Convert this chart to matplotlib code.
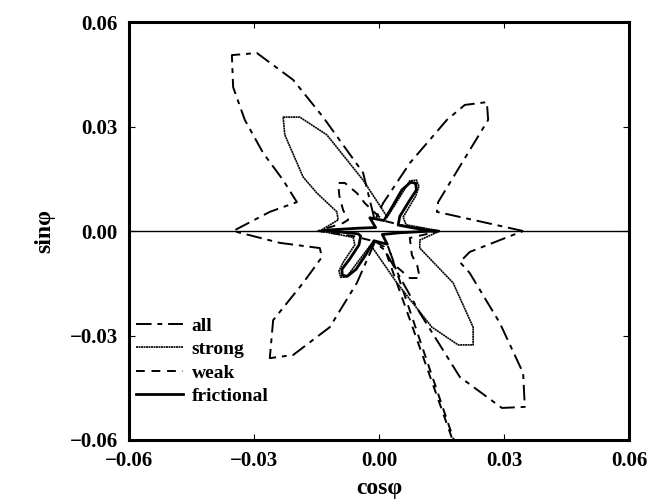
import numpy as np
import matplotlib.pyplot as plt

# -------------------- Data (cos phi, sin phi) --------------------

all_x = [0.0346, 0.0139, 0.0142, 0.0262, 0.0259, 0.0206, 0.0163, 0.0074, 0.0010, -0.0010,
         -0.0038, -0.0134, -0.0206, -0.0293, -0.0353, -0.0350, -0.0322, -0.0278, -0.0230,
         -0.0197, -0.0262, -0.0350, -0.0238, -0.0142, -0.0137, -0.0182, -0.0254, -0.0262,
         -0.0206, -0.0118, -0.0053, -0.0010, 0.0014, 0.0098, 0.0194, 0.0295, 0.0350, 0.0346,
         0.0290, 0.0218, 0.0194, 0.0218, 0.0346]
all_y = [0.0, 0.0055, 0.0083, 0.0319, 0.0370, 0.0362, 0.0319, 0.0195, 0.0080, 0.0030,
         0.0167, 0.0327, 0.0434, 0.0511, 0.0505, 0.0413, 0.0319, 0.0224, 0.0146,
         0.0083, 0.0055, 0.0, -0.0034, -0.0049, -0.0075, -0.0149, -0.0256, -0.0365,
         -0.0356, -0.0276, -0.0149, -0.0032, -0.0055, -0.0235, -0.0419, -0.0508, -0.0505, -0.0408,
         -0.0264, -0.0121, -0.0089, -0.0060, 0.0]

strong_x = [0.0146, 0.0065, 0.0058, 0.0088, 0.0096, 0.0090, 0.0074, 0.0020, -0.0038, -0.0125,
            -0.0190, -0.0230, -0.0226, -0.0182, -0.0149, -0.0101, -0.0098, -0.0142, -0.0062,
            -0.0058, -0.0086, -0.0096, -0.0092, -0.0078, -0.0020, 0.0043, 0.0127, 0.0190,
            0.0226, 0.0226, 0.0178, 0.0098, 0.0098, 0.0146]
strong_y = [0.0, 0.0018, 0.0040, 0.0100, 0.0128, 0.0146, 0.0144, 0.0040, 0.0146, 0.0276,
            0.0327, 0.0327, 0.0276, 0.0155, 0.0109, 0.0055, 0.0032, 0.0, -0.0018,
            -0.0040, -0.0090, -0.0115, -0.0133, -0.0132, -0.0040, -0.0149, -0.0276, -0.0327,
            -0.0327, -0.0276, -0.0149, -0.0049, -0.0026, 0.0]

weak_x = [0.0146, 0.0060, 0.0010, -0.0034, -0.0053, -0.0082, -0.0098, -0.0095, -0.0086, -0.0074,
          -0.0086, -0.0146, -0.0060, -0.0010, 0.0012, 0.0245, 0.0022, 0.0038, 0.0074, 0.0098,
          0.0092, 0.0079, 0.0074, 0.0146]
weak_y = [0.0, 0.0015, 0.0030, 0.0080, 0.0109, 0.0138, 0.0138, 0.0100, 0.0060, 0.0032,
          0.0023, 0.0, -0.0015, -0.0030, -0.0045, -0.0830, -0.0045, -0.0098, -0.0135, -0.0135,
          -0.0100, -0.0069, -0.0020, 0.0]

fric_x = [0.0130, 0.0082, 0.0046, 0.0050, 0.0072, 0.0090, 0.0088, 0.0076, 0.0055, 0.0032,
          0.0012, -0.0022, -0.0008, -0.0050, -0.0135, -0.0050, -0.0044, -0.0048, -0.0070,
          -0.0089, -0.0088, -0.0076, -0.0055, -0.0030, -0.0012, 0.0020, 0.0008, 0.0050, 0.0130]
fric_y = [0.0, 0.0009, 0.0017, 0.0042, 0.0085, 0.0118, 0.0137, 0.0140, 0.0118, 0.0070,
          0.0030, 0.0038, 0.0010, 0.0008, 0.0002, -0.0008, -0.0015, -0.0040, -0.0080,
          -0.0110, -0.0127, -0.0130, -0.0110, -0.0065, -0.0028, -0.0038, -0.0010, -0.0005, 0.0]

ticks = [-0.06, -0.03, 0.00, 0.03, 0.06]
tick_labels = ['\u22120.06', '\u22120.03', '0.00', '0.03', '0.06']

# -------------------- Plot --------------------

plt.rcParams['font.family'] = ['Liberation Serif', 'DejaVu Serif']
plt.rcParams['font.weight'] = 'bold'

fig = plt.figure(figsize=(6.53, 5.04), dpi=100)
ax = fig.add_axes([0.1975, 0.127, 0.7657, 0.8293])

ax.axhline(0, color='k', lw=1.0)
ax.plot(all_x, all_y, color='k', lw=1.4, dashes=(8, 3, 2.5, 3), label='all')
ax.plot(strong_x, strong_y, color='k', lw=1.2, dashes=(1.2, 0.3), label='strong')
ax.plot(weak_x, weak_y, color='k', lw=1.4, dashes=(4.5, 3.5), label='weak')
ax.plot(fric_x, fric_y, color='k', lw=2.0, label='frictional')

ax.set_xlim(-0.06, 0.06)
ax.set_ylim(-0.06, 0.06)
ax.set_xticks(ticks)
ax.set_yticks(ticks)
ax.set_xticklabels(tick_labels, fontsize=15, fontweight='bold')
ax.set_yticklabels(tick_labels, fontsize=15, fontweight='bold')
ax.tick_params(direction='in', length=4, width=0.8, top=True, right=True, pad=8)
for s in ax.spines.values():
    s.set_linewidth(2.2)

ax.set_xlabel('cos\u03c6', fontsize=17, fontweight='bold', labelpad=5)
ax.set_ylabel('sin\u03c6', fontsize=17, fontweight='bold', labelpad=10)

ax.legend(loc='lower left', bbox_to_anchor=(-0.005, 0.06), frameon=False,
          prop={'size': 14, 'weight': 'bold'}, handlelength=2.4,
          handletextpad=0.45, labelspacing=0.3, borderaxespad=0.1)

fig.savefig('out.png', dpi=100)
